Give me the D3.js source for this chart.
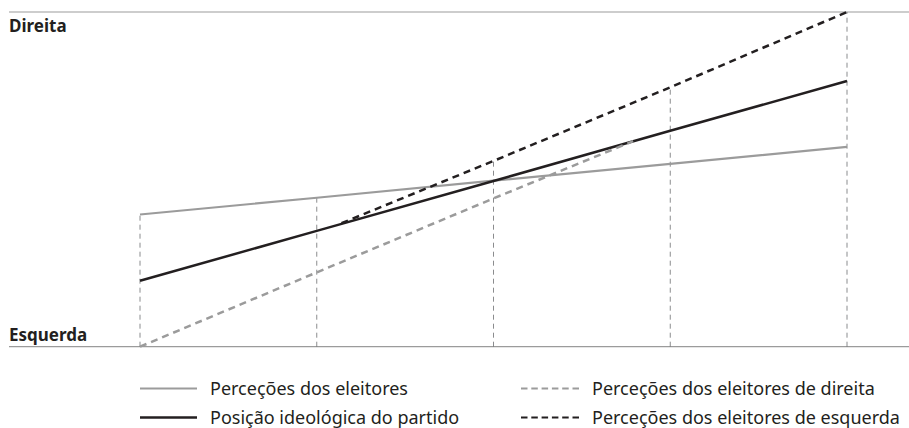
<!DOCTYPE html>
<html>
<head>
<meta charset="utf-8">
<script src="https://cdn.jsdelivr.net/npm/d3@7"></script>
<style>
  body { margin: 0; background: #fff; }
  text { font-family: "Noto Sans", "Open Sans", sans-serif; fill: #231f20; }
</style>
</head>
<body>
<div id="chart"></div>
<script>
// categories on the x axis (five positions)
var categories = [0, 1, 2, 3, 4];

// series: x positions and values (0 = Esquerda, 10 = Direita)
var eleitoresX = [0, 1, 2, 3, 4];
var eleitoresY = [3.95, 4.45, 4.96, 5.46, 5.97];

var partidoX = [0, 1, 2, 3, 4];
var partidoY = [1.97, 3.46, 4.95, 6.45, 7.94];

var direitaX = [0, 1, 2, 2.79];
var direitaY = [0, 2.22, 4.43, 6.14];

var esquerdaX = [1.14, 2, 3, 4];
var esquerdaY = [3.69, 5.55, 7.75, 10];

var axisLabels = ["Esquerda", "Direita"];

var legendLabels = [
    "Perceções dos eleitores",
    "Posição ideológica do partido",
    "Perceções dos eleitores de direita",
    "Perceções dos eleitores de esquerda"
];

function makeChart() {

    var svgWidth = 909;
    var svgHeight = 428;

    var svg = d3.select("#chart")
        .append("svg")
        .attr("width", svgWidth)
        .attr("height", svgHeight);

    var xScale = d3.scaleLinear()
        .domain([0, 4])
        .range([140, 847]);

    var yScale = d3.scaleLinear()
        .domain([0, 10])
        .range([346.7, 12]);

    var series = [
        { name: legendLabels[0], x: eleitoresX, y: eleitoresY, color: "#9b9b9b", width: 2.2, dash: null },
        { name: legendLabels[1], x: partidoX, y: partidoY, color: "#231f20", width: 2.5, dash: null },
        { name: legendLabels[2], x: direitaX, y: direitaY, color: "#9b9b9b", width: 2.5, dash: "7,5" },
        { name: legendLabels[3], x: esquerdaX, y: esquerdaY, color: "#231f20", width: 2.5, dash: "7,5" }
    ];

    // top and bottom reference lines
    svg.selectAll(".frame")
        .data([10, 0])
        .enter()
        .append("line")
        .attr("x1", 9)
        .attr("x2", svgWidth)
        .attr("y1", d => yScale(d))
        .attr("y2", d => yScale(d))
        .attr("stroke", "#9b9b9b")
        .attr("stroke-width", 1.2);

    // value of a series at a category, if defined there
    function valueAt(s, c) {
        var i = s.x.indexOf(c);
        return i >= 0 ? s.y[i] : null;
    }

    // vertical dashed guides, up to the highest line at each category
    svg.selectAll(".guide")
        .data(categories)
        .enter()
        .append("line")
        .attr("x1", d => xScale(d))
        .attr("x2", d => xScale(d))
        .attr("y1", yScale(0))
        .attr("y2", function (d) {
            var top = d3.max(series, s => valueAt(s, d));
            return yScale(top);
        })
        .attr("stroke", "#6d6e71")
        .attr("stroke-width", 0.8)
        .attr("stroke-dasharray", "5,4");

    var line = d3.line()
        .x(d => xScale(d[0]))
        .y(d => yScale(d[1]));

    svg.selectAll(".series")
        .data(series)
        .enter()
        .append("path")
        .attr("d", s => line(d3.zip(s.x, s.y)))
        .attr("fill", "none")
        .attr("stroke", s => s.color)
        .attr("stroke-width", s => s.width)
        .attr("stroke-dasharray", s => s.dash);

    // axis end labels
    svg.append("text")
        .attr("x", 9)
        .attr("y", 32)
        .attr("font-size", "17px")
        .attr("font-weight", "bold")
        .text(axisLabels[1]);

    svg.append("text")
        .attr("x", 9)
        .attr("y", 340.5)
        .attr("font-size", "17px")
        .attr("font-weight", "bold")
        .text(axisLabels[0]);

    // legend
    var legendPos = [
        { x: 140, y: 388.5 },
        { x: 140, y: 417.5 },
        { x: 521, y: 388.5 },
        { x: 521, y: 417.5 }
    ];

    var legend = svg.selectAll(".legend")
        .data(series)
        .enter()
        .append("g")
        .attr("transform", (s, i) => `translate(${legendPos[i].x}, ${legendPos[i].y})`);

    legend.append("line")
        .attr("x1", 0)
        .attr("x2", s => s.dash ? 58 : 57)
        .attr("stroke", s => s.color)
        .attr("stroke-width", s => s.dash ? 2.2 : s.width)
        .attr("stroke-dasharray", s => s.dash ? "6.5,3.8" : null);

    legend.append("text")
        .attr("x", (s, i) => i < 2 ? 70 : 71)
        .attr("dy", "0.35em")
        .attr("font-size", "18px")
        .text(s => s.name);
}

makeChart();
</script>
</body>
</html>
